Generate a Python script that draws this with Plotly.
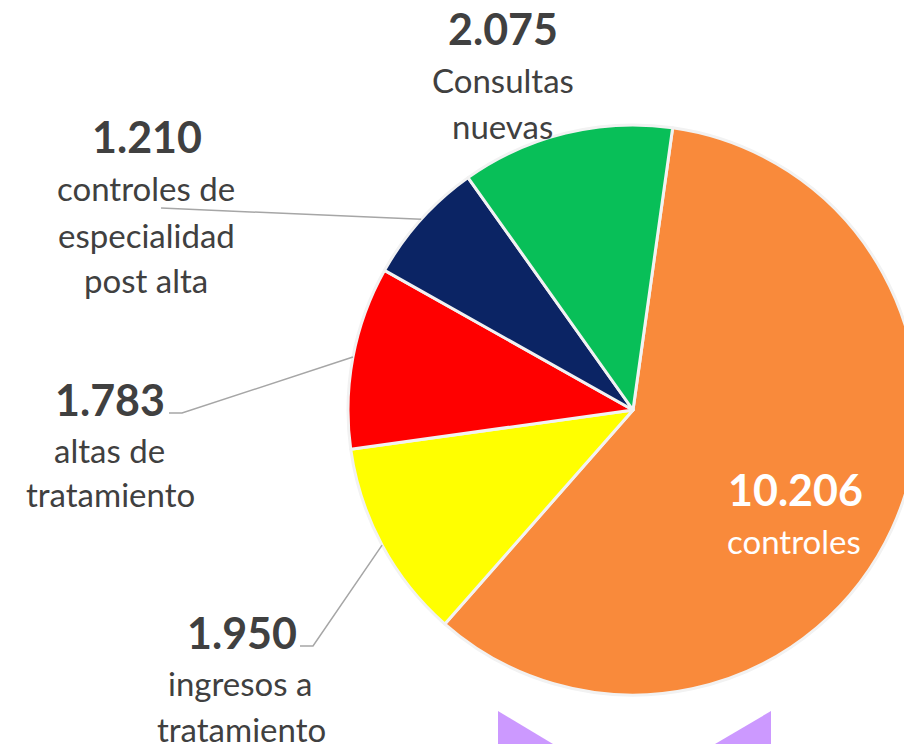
import math
import plotly.graph_objects as go

# ---- data ----
categories = ["controles", "ingresos a<br>tratamiento", "altas de<br>tratamiento",
              "controles de<br>especialidad<br>post alta", "Consultas<br>nuevas"]
values = [10206, 1950, 1783, 1210, 2075]
value_labels = ["10.206", "1.950", "1.783", "1.210", "2.075"]
colors = ["#F98A3B", "#FFFF00", "#FF0000", "#0B2464", "#08BF58"]

W, H = 940, 744
CX, CY, R = 633, 410, 285
START = 8  # degrees clockwise from 12 o'clock

def px(x):
    return x / W

def py(y):
    return 1 - y / H

fig = go.Figure()
fig.add_trace(go.Pie(
    labels=[c.replace("<br>", " ") for c in categories],
    values=values,
    sort=False,
    direction="clockwise",
    rotation=START,
    marker=dict(colors=colors, line=dict(color="#F2F2F2", width=3)),
    textinfo="none",
    hoverinfo="label+value",
    showlegend=False,
    domain=dict(x=[px(CX - R), px(CX + R)], y=[py(CY + R), py(CY - R)]),
))

# slice mid-angle points on the rim (computed from the data)
total = sum(values)
rim = []
acc = 0
for v in values:
    mid = START + 360 * (acc + v / 2) / total
    acc += v
    a = math.radians(mid)
    rim.append((CX + R * math.sin(a), CY - R * math.cos(a)))

TXT = "#404040"
FONT = "Lato"
annotations = []

# label layout: (value center, list of line centers)
layout_pos = {
    0: ((795, 489), [(794, 541)], "white"),
    1: ((242, 632), [(240, 683), (242, 729)], TXT),
    2: ((110, 399), [(109, 450), (110, 494)], TXT),
    3: ((147, 137), [(146, 188), (146, 235), (146, 280)], TXT),
    4: ((503, 29), [(503, 80), (503, 126)], TXT),
}
for i, (vpos, lpos, col) in layout_pos.items():
    annotations.append(dict(x=px(vpos[0]), y=py(vpos[1]), xref="paper", yref="paper",
                            text="<b>" + value_labels[i] + "</b>", showarrow=False,
                            xanchor="center", yanchor="middle",
                            font=dict(family=FONT, size=43, color=col)))
    for line, (lx, ly) in zip(categories[i].split("<br>"), lpos):
        annotations.append(dict(x=px(lx), y=py(ly), xref="paper", yref="paper",
                                text=line, showarrow=False,
                                xanchor="center", yanchor="middle",
                                font=dict(family=FONT, size=33, color=col)))

# leader lines: elbow start points near labels, ending on the slice rim
elbows = {
    1: [(300, 646), (313, 646)],
    2: [(169, 413), (182, 413)],
    3: [(161, 208)],
}
shapes = []
for i, pts in elbows.items():
    pts = pts + [rim[i]]
    path = "M " + " L ".join(f"{px(x)},{py(y)}" for x, y in pts)
    shapes.append(dict(type="path", xref="paper", yref="paper", path=path,
                       line=dict(color="#A6A6A6", width=1.5)))

# purple decoration at the bottom
for tri in ([(498, 711), (498, 744), (553, 744)], [(771, 711), (771, 744), (715, 744)]):
    path = "M " + " L ".join(f"{px(x)},{py(y)}" for x, y in tri) + " Z"
    shapes.append(dict(type="path", xref="paper", yref="paper", path=path,
                       fillcolor="#CC99FF", line=dict(width=0)))

fig.update_layout(
    width=W, height=H,
    margin=dict(l=0, r=0, t=0, b=0),
    paper_bgcolor="white", plot_bgcolor="white",
    annotations=annotations, shapes=shapes,
)

fig.write_html("out.html", config={"displayModeBar": False},
               post_script="document.body.style.margin='0';document.body.style.overflow='hidden';")
